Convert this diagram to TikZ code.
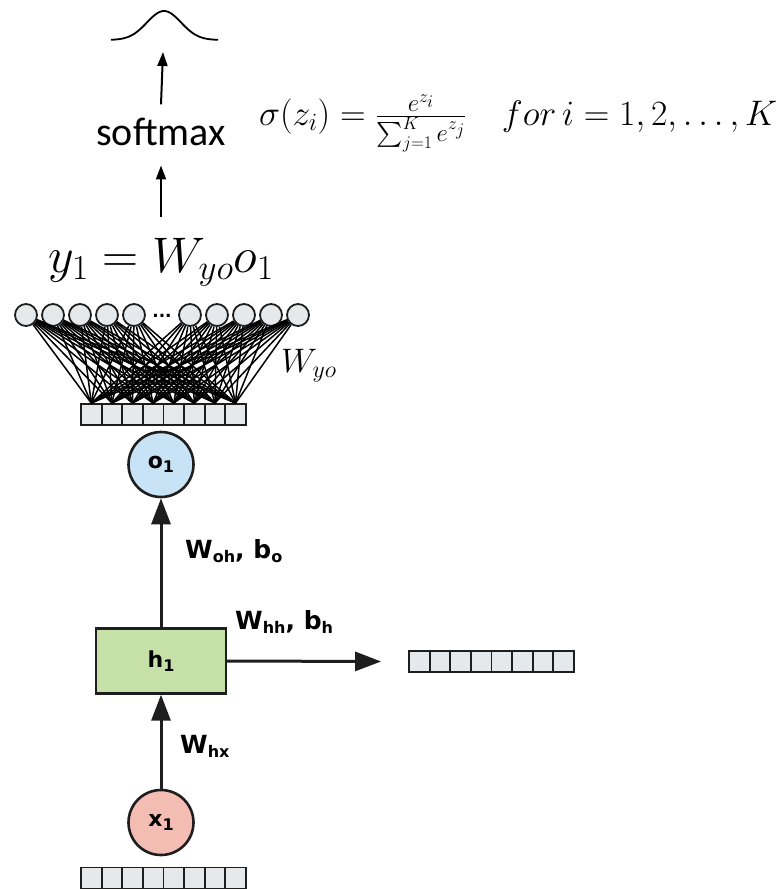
\RequirePackage{fix-cm}
\documentclass[tikz,border=0pt]{standalone}
\usepackage{amsmath}
\usepackage{fontspec}
\usepackage{tikz}
\usetikzlibrary{arrows.meta, positioning}
\usepackage{xcolor}

\newfontfamily\rnnfont{DejaVu Sans}
\newfontfamily\softfont{Carlito}

\definecolor{inkgray}{HTML}{1E1E1E}
\definecolor{cellgray}{HTML}{E6E9EB}
\definecolor{outblue}{HTML}{C8E3F6}
\definecolor{hidgreen}{HTML}{C6E1A8}
\definecolor{inpink}{HTML}{F4BDB3}

% lowered, smaller index for the bold labels
\newcommand{\lowsub}[1]{\raisebox{-4pt}{\fontsize{16}{18}\selectfont #1}}

\begin{document}
\begin{tikzpicture}[
    x=1pt, y=-1pt,
    cell/.style={rectangle, draw=inkgray, line width=1.8pt, fill=cellgray, minimum width=20.6pt, minimum height=21pt, inner sep=0pt}, % one vector entry
    unit/.style={circle, draw=inkgray, line width=1.8pt, fill=cellgray, minimum size=22pt, inner sep=0pt}, % output neuron
    state/.style={circle, draw=inkgray, line width=2.6pt, minimum size=65pt, inner sep=0pt, font=\rnnfont\bfseries\fontsize{22}{24}\selectfont},
    hidden/.style={rectangle, draw=inkgray, line width=2.4pt, fill=hidgreen, minimum width=130pt, minimum height=65pt, inner sep=0pt, font=\rnnfont\bfseries\fontsize{22}{24}\selectfont},
    weight/.style={font=\rnnfont\bfseries\fontsize{25}{28}\selectfont, inner sep=0pt, anchor=base west},
    thinarrow/.style={-{Triangle[length=14pt, width=10pt]}, line width=2pt},
    bigarrow/.style={-{Triangle[length=26pt, width=19pt]}, line width=3pt, draw=inkgray, fill=inkgray},
    every node/.append style={text=black}
]
\useasboundingbox (0,0) rectangle (782,889);

% Recurrent cell: hidden state, output, input
\node[hidden] (h1) at (161,661) {h\lowsub{1}};
\node[state, fill=outblue, above=129pt of h1] (o1) {o\lowsub{1}};
\node[state, fill=inpink, below=94pt of h1] (x1) {x\lowsub{1}};

% Vectors: input (bottom), next step (right), projection (top)
\foreach \i in {1,...,8} {
    \node[cell] (xv\i) at ({81+20.6*(\i-0.5)}, 878) {};
    \node[cell] (hv\i) at ({409+20.6*(\i-0.5)}, 661.5) {};
    \node[cell] (ov\i) at ({81+20.6*(\i-0.5)}, 414.5) {};
}

% Output layer neurons
\foreach \i/\ux in {1/26, 2/53, 3/80, 4/107, 5/134, 6/190, 7/217, 8/244, 9/271, 10/298}
    \node[unit] (u\i) at (\ux,315) {};
\node[inner sep=0pt, font=\rnnfont\bfseries\fontsize{17}{19}\selectfont] (dots) at (162,316) {...};

% Fully connected weights
\foreach \i in {1,...,10}
    \foreach \j in {1,...,8}
        \draw[line width=1.5pt] (u\i) -- (ov\j.north);
\node[anchor=base west, inner sep=0pt, font=\fontsize{34}{38}\selectfont] (wyo) at (281,372) {$W_{yo}$};

% Projection and softmax
\node[anchor=base, inner sep=0pt, font=\fontsize{50}{55}\selectfont] (yeq) at (161,272) {$y_1 = W_{yo} o_1$};
\node[anchor=base, inner sep=0pt, font=\softfont\fontsize{40}{44}\selectfont] (softmax) at (161,145) {softmax};
\node[anchor=base west, inner sep=0pt, font=\fontsize{35.5}{40}\selectfont] (softeq) at ([xshift=33pt, yshift=20pt]softmax.base east)
    {$\sigma(z_i) = \frac{e^{z_i}}{\sum_{j=1}^{K} e^{z_j}} \quad for\, i = 1, 2, \ldots, K$};

% Distribution curve
\draw[line width=1.8pt] plot[domain=111:218, samples=60, smooth] (\x, {40 - 29*exp(-((\x-164)/24)*((\x-164)/24))});
\coordinate (bell) at (163,52);

% Connections
\draw[thinarrow] ([yshift=13pt]softmax.north) -- (bell);
\draw[thinarrow] ([yshift=21pt]yeq.north) -- ([yshift=-20pt]softmax.south);
\draw[bigarrow] (h1.north) -- (o1.south);
\draw[bigarrow] (x1.north) -- (h1.south);
\draw[bigarrow] (h1.east) -- ([xshift=-27pt]hv1.west);

% Weight labels
\node[weight] (woh) at (185,558) {W\lowsub{oh}, b\lowsub{o}};
\node[weight] (whh) at (235,629) {W\lowsub{hh}, b\lowsub{h}};
\node[weight] (whx) at (180,753) {W\lowsub{hx}};

\end{tikzpicture}
\end{document}
